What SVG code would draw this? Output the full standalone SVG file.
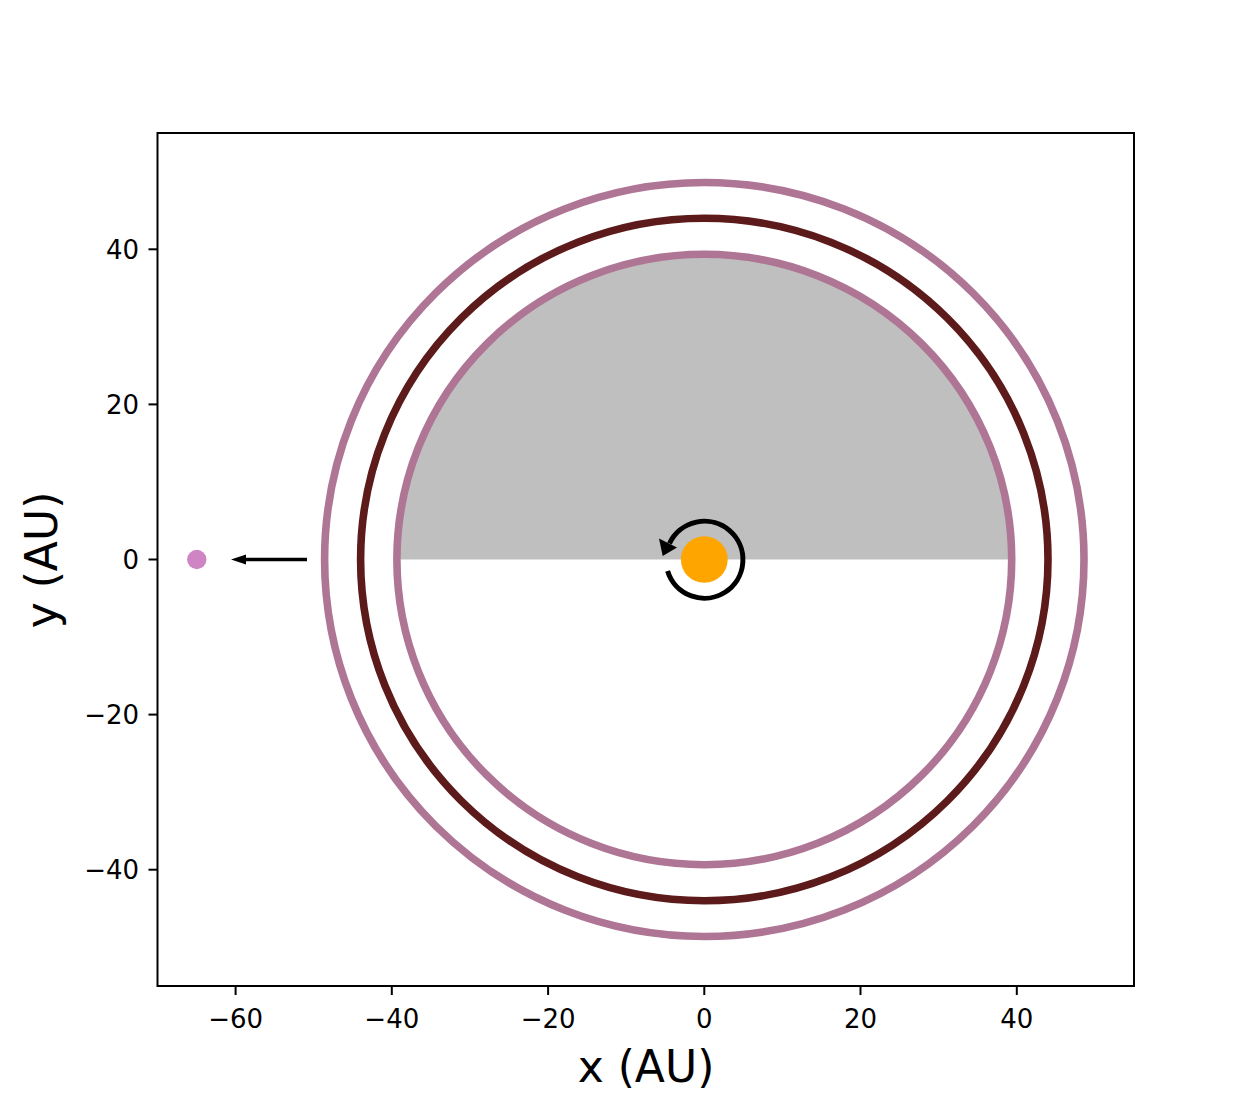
<svg xmlns="http://www.w3.org/2000/svg" width="1260" height="1108" viewBox="0 0 1260 1108">
<style>
.tick{stroke:#000;stroke-width:2}
.tl{font-family:"DejaVu Sans",sans-serif;font-size:26px;fill:#000}
.al{font-family:"DejaVu Sans",sans-serif;font-size:44px;fill:#000}
.ring{fill:none;stroke-width:7.6}
.pink{stroke:#af7595}
.dark{stroke:#5c1a1a}
</style>
<rect width="1260" height="1108" fill="#fff"/>
<g id="disk">
<path d="M396.9,559.5 A307.4,305.2 0 0 1 1011.7,559.5 Z" fill="#bfbfbf"/>
</g>
<g id="ring-inner"><ellipse class="ring pink" cx="704.3" cy="559.5" rx="307.4" ry="305.2"/></g>
<g id="ring-middle"><ellipse class="ring dark" cx="704.3" cy="559.5" rx="343.7" ry="341.3"/></g>
<g id="ring-outer"><ellipse class="ring pink" cx="704.3" cy="559.5" rx="379.7" ry="377"/></g>
<g id="sun"><ellipse cx="704.3" cy="559.5" rx="23.4" ry="23.2" fill="#ffa500"/></g>
<g id="body"><circle cx="196.8" cy="559.5" r="9.7" fill="#cf84c4"/></g>
<g id="connectors">
<path d="M667.6,571 A38.5,38.5 0 1 0 669.5,543.5" fill="none" stroke="#000" stroke-width="5"/>
<polygon points="662.7,556 659,538.5 677,547.5" fill="#000"/>
<line x1="307" y1="559.5" x2="245" y2="559.5" stroke="#000" stroke-width="3.5"/>
<polygon points="231,559.5 246,554.5 246,564.5" fill="#000"/>
</g>
<g id="axes">
<rect x="157.5" y="133" width="976.5" height="853" fill="none" stroke="#000" stroke-width="2"/>
<g class="tick">
<line x1="235.6" y1="986" x2="235.6" y2="995"/>
<line x1="391.8" y1="986" x2="391.8" y2="995"/>
<line x1="548.1" y1="986" x2="548.1" y2="995"/>
<line x1="704.3" y1="986" x2="704.3" y2="995"/>
<line x1="860.5" y1="986" x2="860.5" y2="995"/>
<line x1="1016.8" y1="986" x2="1016.8" y2="995"/>
<line x1="148.5" y1="249.3" x2="157.5" y2="249.3"/>
<line x1="148.5" y1="404.4" x2="157.5" y2="404.4"/>
<line x1="148.5" y1="559.5" x2="157.5" y2="559.5"/>
<line x1="148.5" y1="714.6" x2="157.5" y2="714.6"/>
<line x1="148.5" y1="869.7" x2="157.5" y2="869.7"/>
</g>
<g class="tl" text-anchor="middle">
<text x="235.6" y="1027.5">−60</text>
<text x="391.8" y="1027.5">−40</text>
<text x="548.1" y="1027.5">−20</text>
<text x="704.3" y="1027.5">0</text>
<text x="860.5" y="1027.5">20</text>
<text x="1016.8" y="1027.5">40</text>
</g>
<g class="tl" text-anchor="end">
<text x="139" y="258.8">40</text>
<text x="139" y="413.9">20</text>
<text x="139" y="569">0</text>
<text x="139" y="724.1">−20</text>
<text x="139" y="879.2">−40</text>
</g>
<text class="al" x="646" y="1082" text-anchor="middle">x (AU)</text>
<text class="al" transform="translate(57,560) rotate(-90)" text-anchor="middle">y (AU)</text>
</g>
</svg>
